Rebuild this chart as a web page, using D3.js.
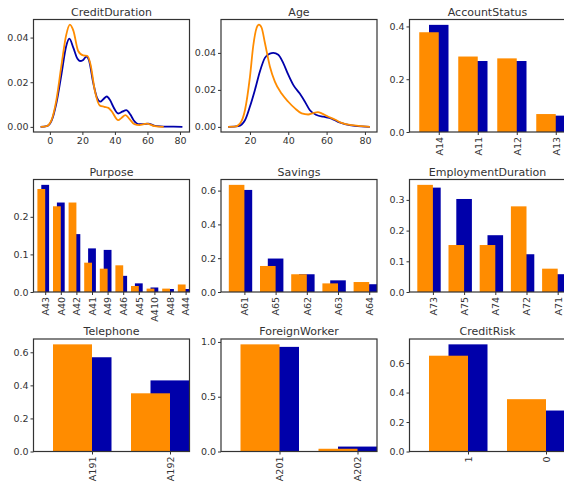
<!DOCTYPE html>
<html><head><meta charset="utf-8">
<script src="https://cdn.jsdelivr.net/npm/d3@7"></script>
<style>body{margin:0;background:#fff} svg{display:block} text{font-family:"DejaVu Sans",sans-serif}</style>
</head><body>
<svg id="c" width="564" height="487"></svg>
<script>
// ---- KDE data ----
const durOrangeX = [-5.7,-2,1,4,7,10,12.3,14.5,17.4,20.5,23,25,27.7,30.8,33.5,36,38,42,44,46.5,49,52,55,59.5,64.5,70];
const durOrangeY = [0,0.0003,0.003,0.012,0.027,0.041,0.0458,0.043,0.034,0.032,0.0318,0.028,0.016,0.0095,0.009,0.0085,0.007,0.003,0.004,0.0053,0.0035,0.0012,0.0008,0.0015,0.0003,0];
const durBlueX = [-5.7,-2,1,4,7,10,12,14.4,17,18.5,20.5,22.5,24,26.7,29,31,33,35,37,39,42,44.5,47,49.5,51.5,55,57.5,60.5,64,68,72,76,81.5];
const durBlueY = [0,0.0003,0.0027,0.0106,0.023,0.036,0.0395,0.0355,0.0305,0.0295,0.030,0.0315,0.030,0.0196,0.013,0.0113,0.0125,0.0136,0.012,0.009,0.006,0.0068,0.0075,0.0055,0.003,0.0012,0.0012,0.0015,0.0006,0.0002,0.0001,0.0001,0];
const durTicks = [0,20,40,60,80];

const ageOrangeX = [8.6,12,14.8,17.4,20,21.7,23.5,24.7,26.1,27.8,30.4,33,36.5,40,43.5,47,50.4,53,55.5,57.4,60.9,64.3,67.8,73,78.3,82.6];
const ageOrangeY = [0,0.0001,0.0018,0.009,0.027,0.0436,0.0536,0.0553,0.0536,0.0455,0.0327,0.0245,0.018,0.0136,0.010,0.0073,0.0067,0.0075,0.008,0.0073,0.0055,0.004,0.0022,0.0009,0.0004,0];
const ageBlueX = [8.6,13.9,17.4,20,22.6,25.2,27.8,30.4,32.2,34.8,37.4,40,42.6,46,48.7,51.3,54.8,58.3,62.6,66,69.6,74.8,82.6];
const ageBlueY = [0,0.0004,0.0036,0.011,0.020,0.030,0.0373,0.0396,0.040,0.039,0.0345,0.0282,0.0227,0.018,0.0136,0.009,0.0064,0.0055,0.0045,0.0027,0.0015,0.0005,0];
const ageTicks = [20,40,60,80];
const kdeYTicks = [0,0.02,0.04];

// ---- Bar data ----
const accountCats = ["A14","A11","A12","A13"];
const accountOrange = [0.378,0.286,0.279,0.068];
const accountBlue = [0.406,0.269,0.269,0.062];
const accountTicks = [0,0.2,0.4];

const purposeCats = ["A43","A40","A42","A41","A49","A46","A45","A410","A48","A44"];
const purposeOrange = [0.274,0.228,0.238,0.078,0.062,0.071,0.016,0.009,0.009,0.020];
const purposeBlue = [0.285,0.238,0.154,0.116,0.112,0.043,0.023,0.012,0.008,0.008];
const purposeTicks = [0,0.1,0.2];

const savingsCats = ["A61","A65","A62","A63","A64"];
const savingsOrange = [0.634,0.154,0.105,0.051,0.059];
const savingsBlue = [0.604,0.198,0.105,0.069,0.046];
const savingsTicks = [0,0.2,0.4,0.6];

const employCats = ["A73","A75","A74","A72","A71"];
const employOrange = [0.349,0.153,0.153,0.279,0.076];
const employBlue = [0.340,0.303,0.185,0.123,0.058];
const employTicks = [0,0.1,0.2,0.3];

const phoneCats = ["A191","A192"];
const phoneOrange = [0.648,0.352];
const phoneBlue = [0.570,0.430];
const phoneTicks = [0,0.2,0.4,0.6];

const foreignCats = ["A201","A202"];
const foreignOrange = [0.978,0.025];
const foreignBlue = [0.955,0.045];
const foreignTicks = [0,0.5,1.0];

const riskCats = ["1","0"];
const riskOrange = [0.650,0.355];
const riskBlue = [0.727,0.278];
const riskTicks = [0,0.2,0.4,0.6];

// ---- layout ----
const colLeft = [33.5, 221, 409.5], rowTop = [19.5, 179.5, 339], W = 156, H = 112.5;
const ORANGE = "#ff8c00", BLUE = "#0000aa", INK = "#333";
const svg = d3.select("#c");
svg.append("rect").attr("width",564).attr("height",487).attr("fill","#fff");

function styleAxis(a){
  a.select(".domain").remove();
  a.selectAll(".tick line").attr("stroke",INK).attr("stroke-width",1);
  a.selectAll(".tick text").attr("fill",INK).style("font-size","9.5px").style("font-family","DejaVu Sans");
}
function panel(col,row,title){
  const g = svg.append("g").attr("transform",`translate(${colLeft[col]},${rowTop[row]})`);
  g.append("text").attr("x",W/2).attr("y",-4).attr("text-anchor","middle")
    .attr("fill",INK).style("font-size","11px").text(title);
  return g;
}
function border(g){
  g.append("rect").attr("width",W).attr("height",H).attr("fill","none")
    .attr("stroke",INK).attr("stroke-width",1.2);
}

function kdePanel(col,row,title,series,xTicks){
  const g = panel(col,row,title);
  const allX = series.flatMap(s=>s.x), allY = series.flatMap(s=>s.y);
  const xmin=d3.min(allX), xmax=d3.max(allX), mx=(xmax-xmin)*0.05;
  const ymax=d3.max(allY), my=ymax*0.05;
  const x = d3.scaleLinear().domain([xmin-mx,xmax+mx]).range([0,W]);
  const y = d3.scaleLinear().domain([-my,ymax+my]).range([H,0]);
  const line = d3.line().x(d=>x(d[0])).y(d=>y(d[1])).curve(d3.curveMonotoneX);
  series.forEach(s=>{
    g.append("path").datum(s.x.map((v,i)=>[v,s.y[i]])).attr("d",line)
      .attr("fill","none").attr("stroke",s.c).attr("stroke-width",1.8).attr("stroke-linejoin","round");
  });
  styleAxis(g.append("g").attr("transform",`translate(0,${H})`)
    .call(d3.axisBottom(x).tickValues(xTicks).tickSize(3).tickPadding(2).tickFormat(d3.format("d"))));
  styleAxis(g.append("g")
    .call(d3.axisLeft(y).tickValues(kdeYTicks).tickSize(3).tickPadding(2).tickFormat(d3.format(".2f"))));
  border(g);
}

function barPanel(col,row,title,cats,orange,blue,yTicks,fmt){
  const g = panel(col,row,title);
  const n = cats.length;
  const x = d3.scaleLinear().domain([-0.75, n-0.75]).range([0,W]);
  const ymax = d3.max(orange.concat(blue));
  const y = d3.scaleLinear().domain([0, ymax*1.05]).range([H,0]);
  g.selectAll(".b").data(blue).join("rect")
    .attr("x",(d,i)=>x(i-0.25)).attr("width",(d,i)=>x(i+0.25)-x(i-0.25))
    .attr("y",d=>y(d)).attr("height",d=>y(0)-y(d)).attr("fill",BLUE);
  g.selectAll(".o").data(orange).join("rect")
    .attr("x",(d,i)=>x(i-0.5)).attr("width",(d,i)=>x(i)-x(i-0.5))
    .attr("y",d=>y(d)).attr("height",d=>y(0)-y(d)).attr("fill",ORANGE);
  const ax = g.append("g").attr("transform",`translate(0,${H})`)
    .call(d3.axisBottom(x).tickValues(d3.range(n)).tickSize(3).tickPadding(2).tickFormat(i=>cats[i]));
  styleAxis(ax);
  ax.selectAll(".tick text").attr("transform","rotate(-90)").attr("text-anchor","end")
    .attr("x",-5).attr("y",0).attr("dy","0.35em");
  styleAxis(g.append("g")
    .call(d3.axisLeft(y).tickValues(yTicks).tickSize(3).tickPadding(2).tickFormat(d3.format(fmt))));
  border(g);
}

kdePanel(0,0,"CreditDuration",[{x:durBlueX,y:durBlueY,c:BLUE},{x:durOrangeX,y:durOrangeY,c:ORANGE}],durTicks);
kdePanel(1,0,"Age",[{x:ageBlueX,y:ageBlueY,c:BLUE},{x:ageOrangeX,y:ageOrangeY,c:ORANGE}],ageTicks);
barPanel(2,0,"AccountStatus",accountCats,accountOrange,accountBlue,accountTicks,".1f");
barPanel(0,1,"Purpose",purposeCats,purposeOrange,purposeBlue,purposeTicks,".1f");
barPanel(1,1,"Savings",savingsCats,savingsOrange,savingsBlue,savingsTicks,".1f");
barPanel(2,1,"EmploymentDuration",employCats,employOrange,employBlue,employTicks,".1f");
barPanel(0,2,"Telephone",phoneCats,phoneOrange,phoneBlue,phoneTicks,".1f");
barPanel(1,2,"ForeignWorker",foreignCats,foreignOrange,foreignBlue,foreignTicks,".1f");
barPanel(2,2,"CreditRisk",riskCats,riskOrange,riskBlue,riskTicks,".1f");
</script>
</body></html>
